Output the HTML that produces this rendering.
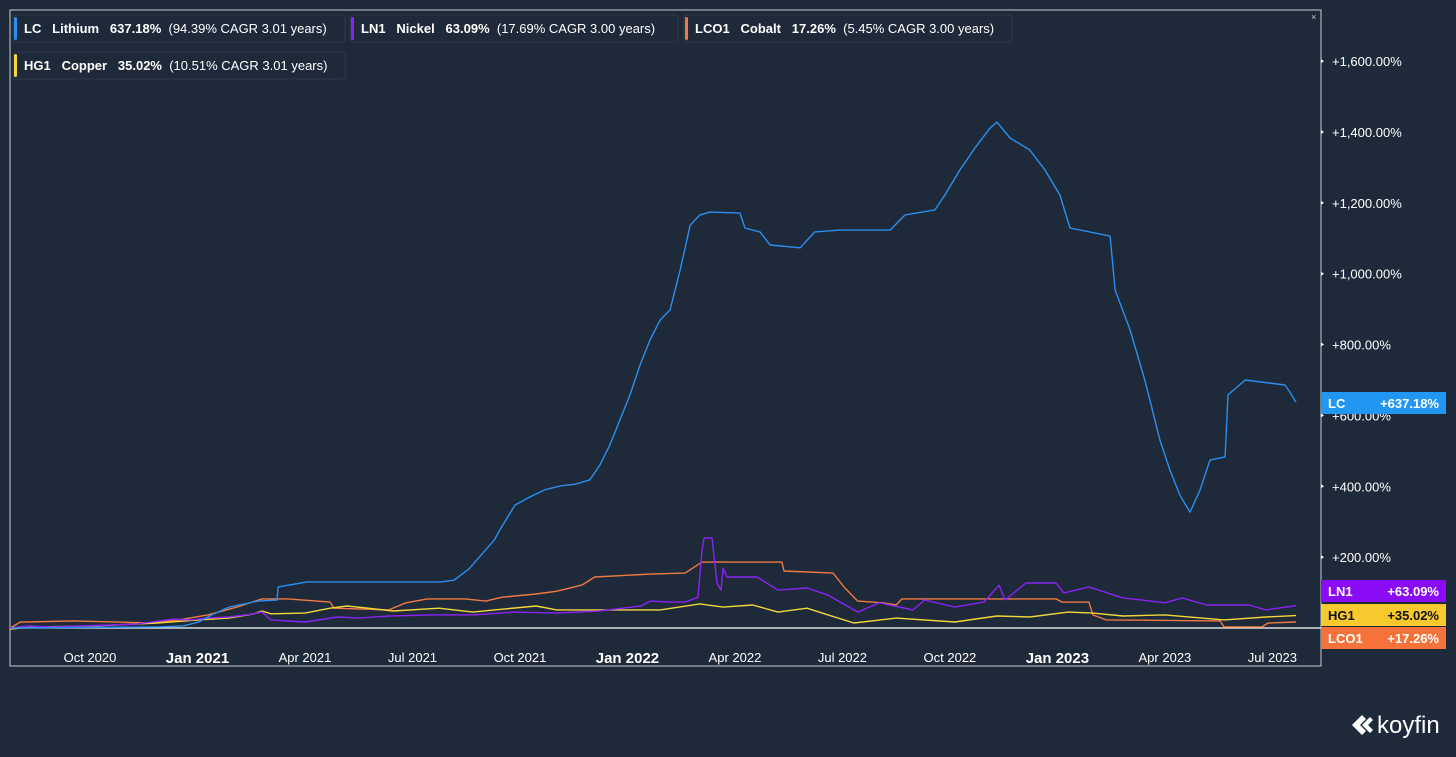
<!DOCTYPE html>
<html><head><meta charset="utf-8">
<style>
body{margin:0;background:#1e2a3a;width:1456px;height:752px;overflow:hidden;font-family:"Liberation Sans",sans-serif;}
svg text{font-family:"Liberation Sans",sans-serif;}
</style></head>
<body>
<svg id="chart" width="1456" height="752" xmlns="http://www.w3.org/2000/svg">
<rect x="0" y="0" width="1456" height="752" fill="#1e2a3a"/>
<g id="legend"></g>
<g id="plot"></g>
</svg>
<script>
// months since Oct 2020 / percent return
const lcT=[-2.18,1.95,2.6,3.04,3.4,3.88,4.69,5.22,5.25,6.06,9.8,10.16,10.58,11.28,11.44,11.86,12.28,12.7,13.12,13.54,13.95,14.23,14.51,14.79,15.07,15.35,15.63,15.91,16.19,16.47,16.75,17.02,17.3,18.14,18.28,18.7,18.98,19.82,20.23,20.93,22.33,22.75,23.58,23.86,24.28,24.7,25.12,25.31,25.68,26.23,26.65,27.07,27.35,28.47,28.61,29.03,29.44,29.86,30.14,30.42,30.7,30.98,31.26,31.68,31.76,32.24,33.35,33.49,33.66];
const lcV=[0,3,6,17,37,59,76,79,116,130,130,135,167,248,277,347,370,390,401,406,418,460,517,587,658,742,813,869,898,1010,1137,1166,1174,1171,1129,1118,1081,1073,1118,1123,1123,1166,1180,1222,1293,1355,1411,1428,1383,1349,1293,1222,1129,1106,954,841,700,531,446,375,327,389,474,483,658,700,686,666,637];
const lnT=[-2.23,-1.76,-1.06,1.28,2.34,2.82,3.29,3.88,4.58,4.8,5.05,6.0,6.92,7.51,8.34,9.52,10.69,11.86,13.03,14.21,15.38,15.63,16.19,16.61,16.97,17.08,17.14,17.36,17.5,17.61,17.67,17.78,18.62,19.2,20.01,20.6,21.43,22.02,22.97,23.3,24.14,24.95,25.37,25.54,26.12,26.96,27.18,27.88,28.83,30.0,30.48,31.17,32.35,32.82,33.66];
const lnV=[0,6,3,11,25,23,28,31,40,45,23,17,31,28,34,37,37,45,42,48,62,76,73,73,87,220,254,254,127,107,169,144,144,107,113,93,45,71,51,79,59,73,121,79,127,127,99,116,85,71,85,65,65,51,63];
const coT=[-2.23,-1.94,-1.76,-0.47,1.76,2.46,3.29,4.1,4.8,5.53,6.7,6.81,8.34,8.82,9.41,10.47,11.05,11.5,12.45,13.03,13.73,14.09,15.63,16.61,17.08,19.31,19.37,20.74,21.07,21.43,22.13,22.5,22.66,26.96,27.13,27.88,27.99,28.36,31.54,31.65,32.71,32.88,33.66];
const coV=[0,17,17,20,14,23,37,59,82,82,73,56,51,71,82,82,76,87,96,104,121,144,152,155,186,186,161,155,113,76,71,65,82,82,73,73,37,23,20,3,3,14,17];
const cuT=[-2.23,-1.54,0.11,1.87,3.04,3.88,4.58,4.8,5.05,6.0,6.7,7.17,7.76,8.46,9.74,10.69,11.28,12.45,13.03,14.21,15.91,17.02,17.67,18.5,19.2,20.01,20.6,21.32,22.5,24.14,25.31,26.23,27.3,27.99,28.83,30.0,31.65,32.82,33.66];
const cuV=[-3,3,6,14,23,28,40,48,40,42,56,62,56,48,56,45,51,62,51,51,51,68,59,65,45,56,37,14,28,17,34,31,45,42,34,37,23,31,35];
const yTicks=[200,400,600,800,1000,1200,1400,1600];
const xTickM=[0,3,6,9,12,15,18,21,24,27,30,33];
const xTickL=["Oct 2020","Jan 2021","Apr 2021","Jul 2021","Oct 2021","Jan 2022","Apr 2022","Jul 2022","Oct 2022","Jan 2023","Apr 2023","Jul 2023"];
const legTicker=["LC","LN1","LCO1","HG1"];
const legName=["Lithium","Nickel","Cobalt","Copper"];
const legPct=["637.18%","63.09%","17.26%","35.02%"];
const legCagr=["(94.39% CAGR 3.01 years)","(17.69% CAGR 3.00 years)","(5.45% CAGR 3.00 years)","(10.51% CAGR 3.01 years)"];
const tagVal=["+637.18%","+63.09%","+17.26%","+35.02%"];

const NS="http://www.w3.org/2000/svg";
const X=m=>90+m*35.83;
const Y=v=>628-v*0.3543;
const plot=document.getElementById('plot');
function mk(tag,attrs,parent,text){const e=document.createElementNS(NS,tag);for(const k in attrs)e.setAttribute(k,attrs[k]);if(text!==undefined)e.textContent=text;(parent||plot).appendChild(e);return e;}

// frame
let f=mk('path',{d:'M10 10H1321V666H10Z',fill:'none',stroke:'#c8ccd2','stroke-width':1});


let z=mk('line',{x1:10,x2:1321,y1:Y(0),y2:Y(0),stroke:'#ffffff','stroke-width':1.3});


mk('text',{x:1311,y:20,fill:'#ccc','font-size':9},plot,'×');

yTicks.forEach(v=>{
  const t=mk('text',{x:1332,y:Y(v)+5,fill:'#ffffff','font-size':13},plot,'+'+v.toLocaleString('en-US')+'.00%');
  
  
  mk('path',{d:`M1321 ${Y(v)-2}l3 2l-3 2z`,fill:'#fff'});
});
xTickM.forEach((m,i)=>{
  const jan=xTickL[i].startsWith('Jan');
  const t=mk('text',{x:X(m),y:jan?663:662,fill:'#ffffff','font-size':jan?15:13,'font-weight':jan?'bold':'normal','text-anchor':'middle'},plot,xTickL[i]);
  
  
});

function series(T,V,color,name){
  const d=T.map((t,i)=>(i?'L':'M')+X(t).toFixed(1)+' '+Y(V[i]).toFixed(1)).join('');
  const p=mk('path',{d,fill:'none',stroke:color,'stroke-width':1.4,'stroke-linejoin':'round'});
  
  
}
series(coT,coV,'#f07a42','cobalt-line');
series(cuT,cuV,'#f2d63c','copper-line');
series(lnT,lnV,'#8a22f2','nickel-line');
series(lcT,lcV,'#2b8ef0','lithium-line');

// tags
const tagCol=['#2196f3','#8a0cf5','#f5733a','#f7c92c'];
const tagTxt=['#fff','#fff','#fff','#111'];
const tagY=[392,580,627,604];
[1,3,2,0].forEach(i=>{
  const g=mk('g',{});
  
  
  mk('rect',{x:1321,y:tagY[i],width:125,height:22,fill:tagCol[i]},g);
  mk('text',{x:1328,y:tagY[i]+16,fill:tagTxt[i],'font-size':13,'font-weight':'bold'},g,legTicker[i]);
  mk('text',{x:1439,y:tagY[i]+16,fill:tagTxt[i],'font-size':13,'font-weight':'bold','text-anchor':'end'},g,tagVal[i]);
});

// legend
const leg=document.getElementById('legend');
const lx=[13,350,684,13],ly=[15,15,15,52],lw=[332,328,328,332];
const lcol=['#2b8ef0','#8a22f2','#f07a42','#f2d63c'];
legTicker.forEach((tk,i)=>{
  const g=mk('g',{},leg);
  
  
  mk('rect',{x:lx[i],y:ly[i],width:lw[i],height:27,rx:3,fill:'#1e2a3a',stroke:'#2c3a4c'},g);
  mk('rect',{x:lx[i]+1,y:ly[i]+2,width:3,height:23,rx:1.5,fill:lcol[i]},g);
  const t=mk('text',{x:lx[i]+11,y:ly[i]+18,fill:'#fff','font-size':13},g);
  const a=mk('tspan',{'font-weight':'bold'},t,tk+'   '+legName[i]+'   '+legPct[i]+'  ');
  a.setAttribute('xml:space','preserve');
  mk('tspan',{},t,legCagr[i]);
  t.setAttribute('style','white-space:pre');
});

// logo
const lg=mk('g',{},document.getElementById('chart'));


mk('path',{d:'M1352 725l10-10l4 4l-6 6l6 6l-4 4z M1362 725l8-8l3 3l-5 5l5 5l-3 3z',fill:'#fff'},lg);
mk('text',{x:1377,y:733,fill:'#fff','font-size':24},lg,'koyfin');
</script>
</body></html>
